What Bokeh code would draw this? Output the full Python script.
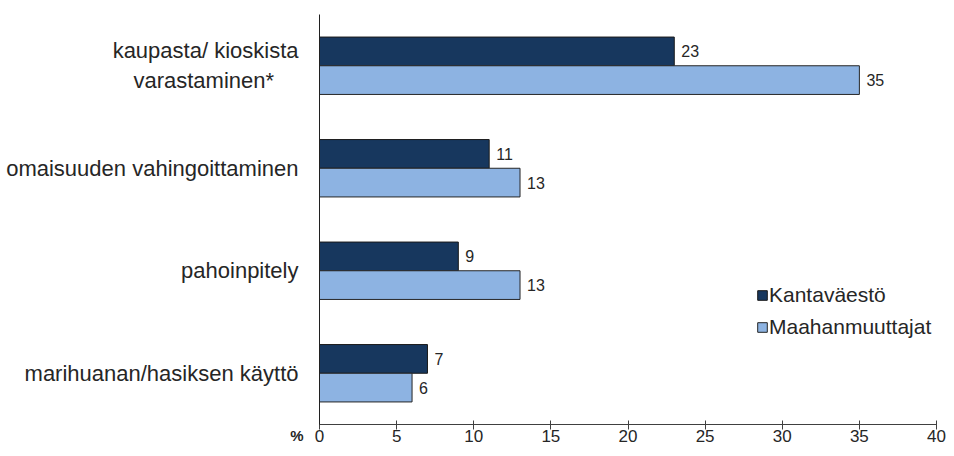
from bokeh.plotting import figure
from bokeh.models import Range1d, FixedTicker, Legend, LegendItem, LinearAxis, ColumnDataSource
from bokeh.embed import file_html
from bokeh.resources import INLINE
from bokeh.core.properties import value

NBSP = "\u00a0"
categories = ["marihuanan/hasiksen käyttö", "pahoinpitely", "omaisuuden vahingoittaminen",
              "kaupasta/ kioskista\nvarastaminen*" + NBSP * 4]
kantavaesto = [7, 9, 11, 23]
maahanmuuttajat = [6, 13, 13, 35]
series_names = ["Kantaväestö", "Maahanmuuttajat"]
x_ticks = [0, 5, 10, 15, 20, 25, 30, 35, 40]
unit_label = "%"

FONT = "Liberation Sans"
TXT = "#262626"
DARK = "#17375E"
LIGHT = "#8DB3E2"

idx = list(range(len(categories)))
bh = 0.28
src_d = ColumnDataSource(dict(y=[i + bh / 2 for i in idx], v=kantavaesto, t=[str(v) for v in kantavaesto]))
src_l = ColumnDataSource(dict(y=[i - bh / 2 for i in idx], v=maahanmuuttajat, t=[str(v) for v in maahanmuuttajat]))

p = figure(width=946, height=448, output_backend="svg", toolbar_location=None,
           x_range=Range1d(0, 40), y_range=Range1d(-0.5, 3.5),
           min_border_left=319, min_border_right=10, min_border_top=14, min_border_bottom=24,
           y_axis_location=None)
p.outline_line_color = None
p.grid.grid_line_color = None

r1 = p.hbar(y="y", right="v", left=0, height=bh, source=src_d, fill_color=DARK, line_color="#1a1a1a", line_width=1)
r2 = p.hbar(y="y", right="v", left=0, height=bh, source=src_l, fill_color=LIGHT, line_color="#262626", line_width=1)

for src in (src_d, src_l):
    p.text(x="v", y="y", text="t", source=src, x_offset=7, text_baseline="middle", text_align="left",
           text_font=value(FONT), text_font_size="16px", text_color=TXT)

# x axis
xa = p.xaxis[0]
xa.ticker = FixedTicker(ticks=x_ticks)
xa.major_tick_in = 4
xa.major_tick_out = 5
xa.minor_tick_line_color = None
xa.axis_line_color = "#404040"
xa.major_tick_line_color = "#404040"
xa.major_label_text_font = FONT
xa.major_label_text_font_size = "17px"
xa.major_label_text_color = TXT
xa.major_label_standoff = 0

# y axis nearest the frame: the axis line and the unit label
pct_axis = LinearAxis(ticker=FixedTicker(ticks=[-0.5]),
                      major_label_overrides={-0.5: "\n\n" + unit_label})
pct_axis.major_tick_in = 0
pct_axis.major_tick_out = 0
pct_axis.minor_tick_line_color = None
pct_axis.axis_line_color = "#202020"
pct_axis.major_label_text_font = FONT
pct_axis.major_label_text_font_size = "15px"
pct_axis.major_label_text_font_style = "bold"
pct_axis.major_label_text_color = TXT
pct_axis.major_label_standoff = 16

# category labels
cat_axis = LinearAxis(ticker=FixedTicker(ticks=idx),
                      major_label_overrides={i: c for i, c in zip(idx, categories)})
cat_axis.major_tick_in = 0
cat_axis.major_tick_out = 0
cat_axis.minor_tick_line_color = None
cat_axis.axis_line_color = None
cat_axis.major_label_text_font = FONT
cat_axis.major_label_text_font_size = "22px"
cat_axis.major_label_text_color = TXT
cat_axis.major_label_standoff = -11

p.left = [pct_axis, cat_axis]

legend = Legend(items=[LegendItem(label=series_names[0], renderers=[r1]),
                       LegendItem(label=series_names[1], renderers=[r2])],
                location=(437, 85), orientation="vertical")
legend.glyph_width = 12
legend.glyph_height = 12
legend.label_standoff = 1
legend.spacing = 8
legend.padding = 0
legend.margin = 0
legend.border_line_color = None
legend.background_fill_alpha = 0
legend.label_text_font = FONT
legend.label_text_font_size = "21px"
legend.label_text_color = TXT
p.add_layout(legend)

open("out.html", "w").write(file_html(p, INLINE))
